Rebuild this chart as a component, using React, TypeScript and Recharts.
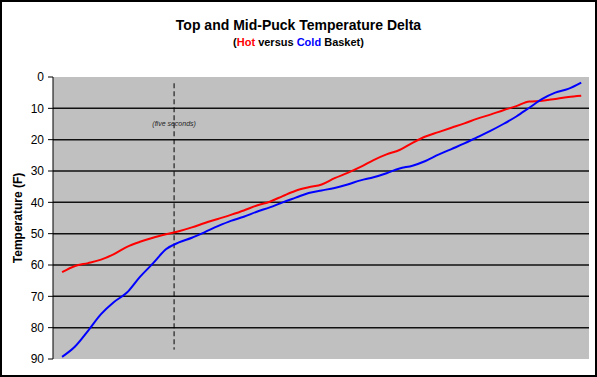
import { LineChart, Line, XAxis, YAxis, CartesianGrid, ReferenceLine, ReferenceDot } from "recharts";

// temperatures, equally spaced samples
const hotBasket = [
  62.3, 60.3, 59.4, 58.3, 56.5, 54.2, 52.6, 51.3, 50.2, 49.2,
  48.0, 46.6, 45.3, 44.0, 42.6, 41.0, 39.8, 38.0, 36.3, 35.2,
  34.3, 32.3, 30.6, 28.7, 26.5, 24.7, 23.3, 21.0, 19.0, 17.6,
  16.2, 14.8, 13.3, 12.0, 10.6, 9.3, 7.8, 7.6, 7.0, 6.4, 6.0,
];
const coldBasket = [
  89.3, 86.0, 81.0, 75.7, 71.8, 68.8, 63.8, 59.5, 55.0, 52.8,
  51.3, 49.5, 47.6, 45.9, 44.6, 43.0, 41.6, 40.0, 38.5, 37.0,
  36.2, 35.4, 34.3, 33.0, 32.0, 30.7, 29.2, 28.3, 26.8, 24.8,
  23.0, 21.2, 19.2, 17.2, 15.0, 12.6, 9.8, 7.0, 5.0, 3.8, 1.8,
];
const yTicks = [0, 10, 20, 30, 40, 50, 60, 70, 80, 90];
const gridLevels = [10, 20, 30, 40, 50, 60, 70, 80];
const fiveSeconds = 8.63;

const data = hotBasket.map((hot, i) => ({ step: i, hot, cold: coldBasket[i] }));

const font = "Arial, 'Liberation Sans', sans-serif";

export default function App() {
  return (
    <div style={{ position: "relative", width: 597, height: 377, background: "#fff", fontFamily: font }}>
      <style>{`body{margin:0}`}</style>
      <LineChart width={597} height={377} data={data} margin={{ top: 77, right: 8, bottom: 18, left: 0 }}>
        <CartesianGrid fill="#c0c0c0" horizontal={false} vertical={false} />
        <XAxis dataKey="step" type="number" domain={[-0.7, 40.6]} hide />
        <YAxis
          reversed
          domain={[0, 90]}
          ticks={yTicks}
          interval={0}
          width={53}
          tickSize={5}
          tickMargin={4}
          axisLine={{ stroke: "#000" }}
          tickLine={{ stroke: "#000" }}
          tick={{ fill: "#000", fontSize: 12, fontFamily: font }}
          label={({ viewBox }: any) => {
            const cx = viewBox.x + 18;
            const cy = viewBox.y + viewBox.height / 2;
            return (
              <text x={cx} y={cy} transform={`rotate(-90 ${cx} ${cy})`} textAnchor="middle"
                dominantBaseline="central" fontSize={12} fontWeight="bold" fontFamily={font} fill="#000">
                Temperature (F)
              </text>
            );
          }}
        />
        {gridLevels.map((v) => (
          <ReferenceLine key={v} y={v} stroke="#111" strokeWidth={1.5} />
        ))}
        <ReferenceLine
          segment={[{ x: fiveSeconds, y: 2 }, { x: fiveSeconds, y: 87 }]}
          stroke="#000"
          strokeDasharray="5 3"
        />
        <ReferenceDot
          x={fiveSeconds}
          y={14.7}
          r={0}
          fill="none"
          stroke="none"
          label={{ value: "(five seconds)", fontSize: 7, fontStyle: "italic", fill: "#222", fontFamily: font }}
        />
        <Line type="monotone" dataKey="hot" stroke="#ff0000" strokeWidth={2} dot={false} isAnimationActive={false} />
        <Line type="monotone" dataKey="cold" stroke="#0000ff" strokeWidth={2} dot={false} isAnimationActive={false} />
      </LineChart>
      <div style={{ position: "absolute", top: 17, left: 0, width: 597, textAlign: "center", fontWeight: "bold", fontSize: 14, lineHeight: "16px" }}>
        Top and Mid-Puck Temperature Delta
      </div>
      <div style={{ position: "absolute", top: 36, left: 0, width: 597, textAlign: "center", fontWeight: "bold", fontSize: 11, lineHeight: "13px" }}>
        (<span style={{ color: "#ff0000" }}>Hot</span> versus <span style={{ color: "#0000ff" }}>Cold</span> Basket)
      </div>
      <div style={{ position: "absolute", inset: 0, border: "2px solid #000", boxSizing: "border-box", pointerEvents: "none" }} />
    </div>
  );
}
